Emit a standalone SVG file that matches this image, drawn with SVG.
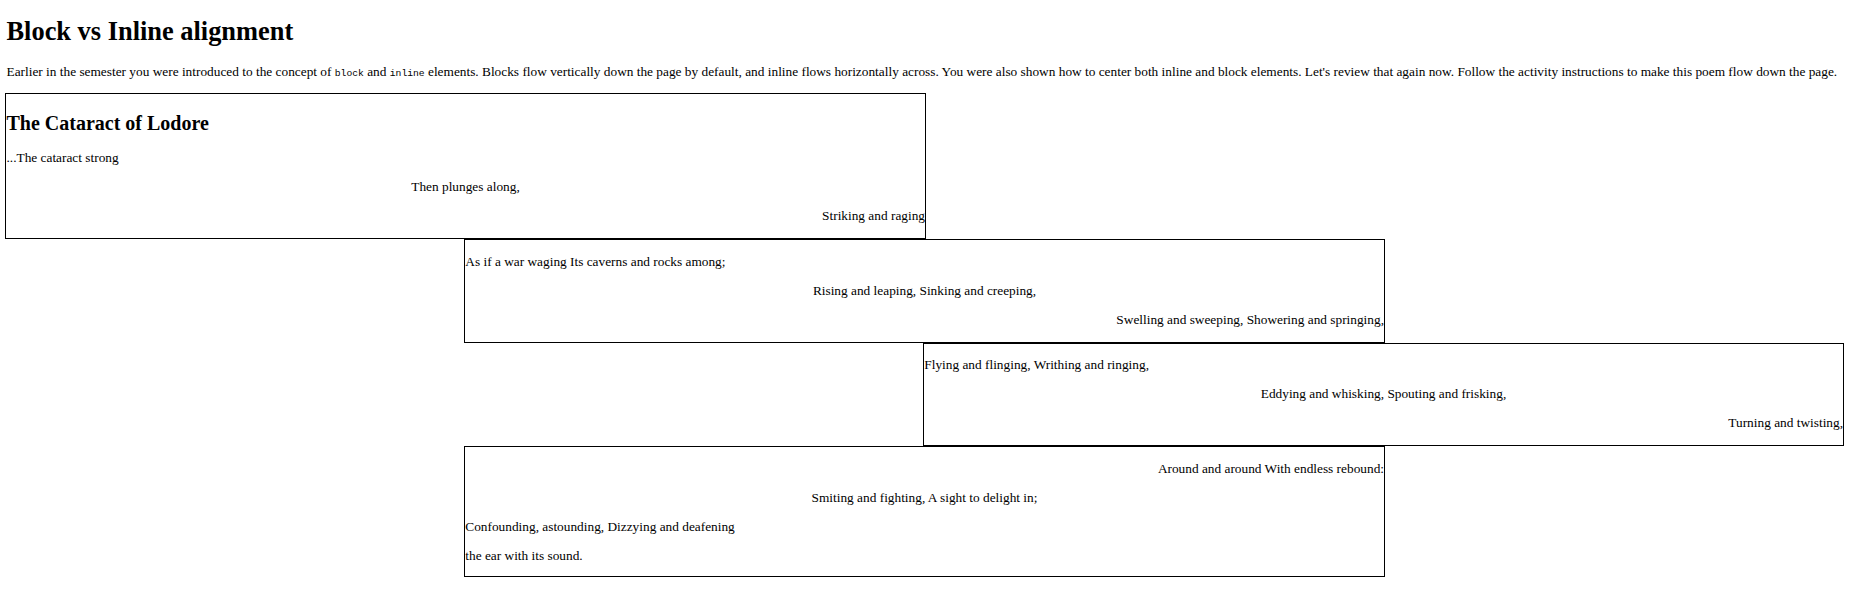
<svg xmlns="http://www.w3.org/2000/svg" width="1850" height="608" viewBox="0 0 1850 608">
<style>
  text { font-family: "Liberation Serif", "Times New Roman", serif; fill: #000; }
  .h1 { font-size: 26.4px; font-weight: bold; }
  .h2 { font-size: 20px; font-weight: bold; }
  .t { font-size: 13.33px; }
  .code { font-family: "Liberation Mono", "DejaVu Sans Mono", monospace; font-size: 9.7px; }
  .c { text-anchor: middle; }
  .r { text-anchor: end; }
  .box { fill: none; stroke: #000; stroke-width: 1; }
</style>
<rect width="1850" height="608" fill="#fff"/>
<g id="header">
  <text class="h1" x="6.5" y="39.5">Block vs Inline alignment</text>
  <text class="t" x="6.5" y="75.8">Earlier in the semester you were introduced to the concept of <tspan class="code">block</tspan> and <tspan class="code">inline</tspan> elements. Blocks flow vertically down the page by default, and inline flows horizontally across. You were also shown how to center both inline and block elements. Let's review that again now. Follow the activity instructions to make this poem flow down the page.</text>
</g>
<g id="box1">
  <rect class="box" x="5.5" y="93.5" width="920" height="145"/>
  <text class="h2" x="6.5" y="129.8">The Cataract of Lodore</text>
  <text class="t" x="6.5" y="162">...The cataract strong</text>
  <text class="t c" x="465.5" y="191">Then plunges along,</text>
  <text class="t r" x="925" y="220">Striking and raging</text>
</g>
<g id="box2">
  <rect class="box" x="464.5" y="239.5" width="920" height="103"/>
  <text class="t" x="465.3" y="266.3">As if a war waging Its caverns and rocks among;</text>
  <text class="t c" x="924.5" y="295.2">Rising and leaping, Sinking and creeping,</text>
  <text class="t r" x="1384" y="324.2">Swelling and sweeping, Showering and springing,</text>
</g>
<g id="box3">
  <rect class="box" x="923.5" y="343.5" width="920" height="102"/>
  <text class="t" x="924.3" y="369.3">Flying and flinging, Writhing and ringing,</text>
  <text class="t c" x="1383.5" y="398.2">Eddying and whisking, Spouting and frisking,</text>
  <text class="t r" x="1843" y="427">Turning and twisting,</text>
</g>
<g id="box4">
  <rect class="box" x="464.5" y="446.5" width="920" height="130"/>
  <text class="t r" x="1384" y="473.3">Around and around With endless rebound:</text>
  <text class="t c" x="924.5" y="502.2">Smiting and fighting, A sight to delight in;</text>
  <text class="t" x="465.3" y="531">Confounding, astounding, Dizzying and deafening</text>
  <text class="t" x="465.3" y="559.8">the ear with its sound.</text>
</g>
<g id="connectors"></g>
</svg>
